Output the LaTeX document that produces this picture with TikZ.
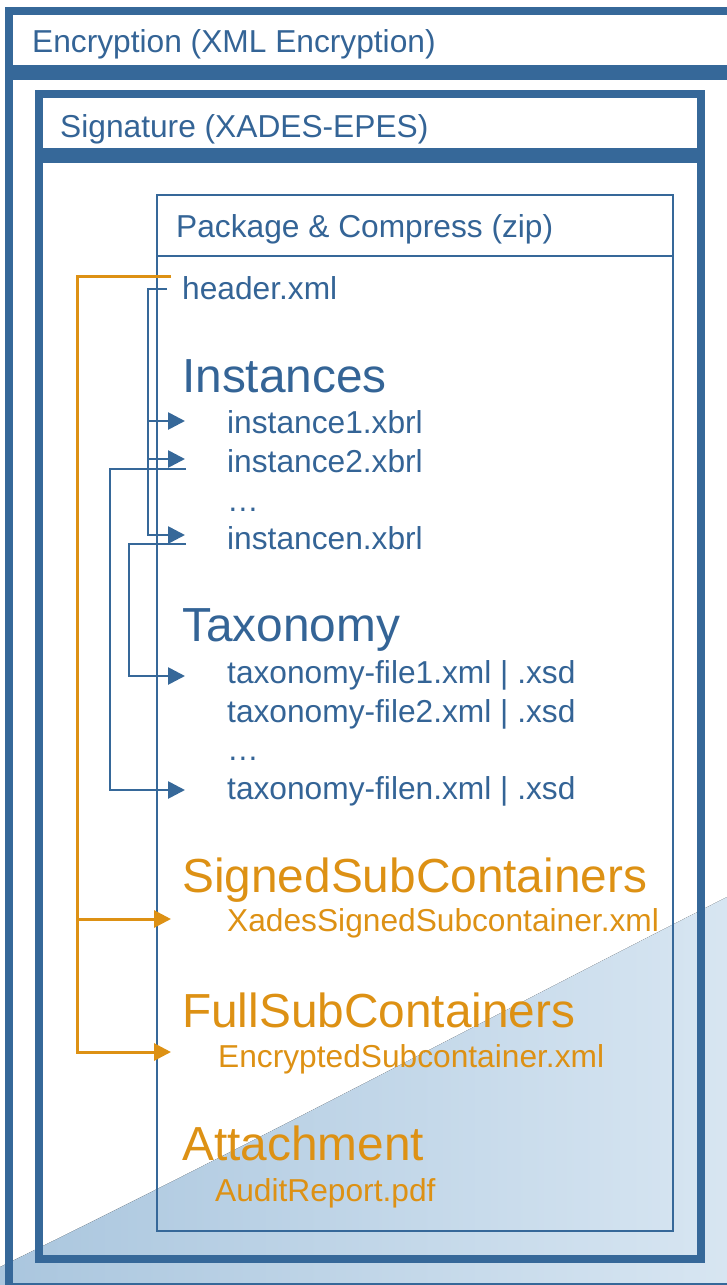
\documentclass[tikz,border=0pt]{standalone}
\usepackage{fontspec}
\setmainfont{Liberation Sans}
\usetikzlibrary{arrows.meta}
\definecolor{bl}{RGB}{54,104,153}
\definecolor{txb}{RGB}{52,100,150}
\definecolor{org}{RGB}{221,145,20}
\definecolor{shL}{RGB}{170,198,222}
\definecolor{shR}{RGB}{216,230,242}
\begin{document}
\begin{tikzpicture}[x=1pt,y=-1pt,
  sm/.style={anchor=base west, inner sep=0pt, font=\fontsize{31.7}{36}\selectfont},
  lg/.style={anchor=base west, inner sep=0pt, font=\fontsize{47.8}{54}\selectfont},
  bt/.style={text=txb},
  ot/.style={text=org},
  thick box/.style={draw=bl, line width=7.5pt},
  band/.style={draw=bl, line width=15pt},
  bcon/.style={draw=bl, line width=2.7pt},
  ocon/.style={draw=org, line width=3pt},
  btip/.style={-{Triangle[length=17pt,width=17pt]}},
]
\useasboundingbox (0,0) rectangle (727,1285);
\begin{scope}
\clip (0,0) rectangle (727,1285);
% background gradient
\fill[left color=shL, right color=shR] (0,1267) .. controls (250,1145) and (500,1012) .. (727,897) -- (740,890) -- (740,1300) -- (0,1300) -- cycle;
% encryption box
\draw[thick box] (9,11) rectangle (760,1287);
\draw[band] (9,72) -- (760,72);
% signature box
\draw[draw=bl, line width=8pt] (39,93.5) rectangle (701,1259);
\draw[band] (39,155.5) -- (701,155.5);
% package box
\draw[draw=bl, line width=2pt] (157,195) rectangle (673,1231);
\draw[draw=bl, line width=2pt] (157,256) -- (673,256);
\end{scope}

% titles
\node[sm,bt] (enc) at (32,52) {Encryption (XML Encryption)};
\node[sm,bt] (sig) at (60,137) {Signature (XADES-EPES)};
\node[sm,bt] (pkg) at (176,237) {Package \& Compress (zip)};

% contents
\node[sm,bt] (hdr) at (182,299) {header.xml};
\node[lg,bt] (inst) at (182,392) {Instances};
\node[sm,bt] (i1) at (227,433) {instance1.xbrl};
\node[sm,bt] (i2) at (227,472) {instance2.xbrl};
\node[sm,bt] (idots) at (227,511) {\ldots};
\node[sm,bt] (in) at (227,549) {instancen.xbrl};
\node[lg,bt] (tax) at (182,641) {Taxonomy};
\node[sm,bt] (t1) at (227,683) {taxonomy-file1.xml | .xsd};
\node[sm,bt] (t2) at (227,722) {taxonomy-file2.xml | .xsd};
\node[sm,bt] (tdots) at (227,760) {\ldots};
\node[sm,bt] (tn) at (227,799) {taxonomy-filen.xml | .xsd};
\node[lg,ot] (ssc) at (182,892) {SignedSubContainers};
\node[sm,ot] (xad) at (227,931) {XadesSignedSubcontainer.xml};
\node[lg,ot] (fsc) at (182,1027) {FullSubContainers};
\node[sm,ot] (encs) at (218,1067) {EncryptedSubcontainer.xml};
\node[lg,ot] (att) at (182,1160) {Attachment};
\node[sm,ot] (aud) at (215,1201) {AuditReport.pdf};

% connector end points
\coordinate (hdrB) at (167,289);
\coordinate (hdrO) at (171,276);
\coordinate (i1tip) at (185,421);
\coordinate (i2tip) at (185,459);
\coordinate (intip) at (185,535);
\coordinate (i2out) at (186,469);
\coordinate (inout) at (186,544);
\coordinate (t1tip) at (185,676);
\coordinate (tntip) at (185,790);
\coordinate (xadtip) at (171,919);
\coordinate (enctip) at (171,1052);

% blue connectors
\draw[bcon, btip] (hdrB) -- (148,289) -- (148,535) -- (intip);
\draw[bcon, btip] (148,421) -- (i1tip);
\draw[bcon, btip] (148,459) -- (i2tip);
\draw[bcon, btip] (i2out) -- (110,469) -- (110,790) -- (tntip);
\draw[bcon, btip] (inout) -- (129,544) -- (129,676) -- (t1tip);
% orange connectors
\draw[ocon, btip] (hdrO) -- (77,276) -- (77,1052) -- (enctip);
\draw[ocon, btip] (77,919) -- (xadtip);
\end{tikzpicture}
\end{document}
